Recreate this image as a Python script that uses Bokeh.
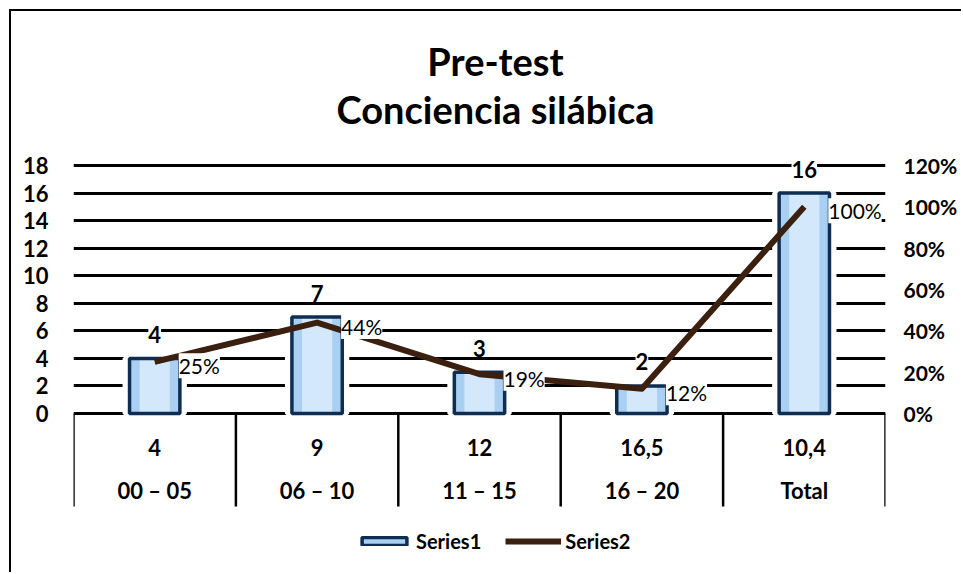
from bokeh.plotting import figure
from bokeh.models import (Range1d, LinearAxis, FixedTicker, NumeralTickFormatter,
                          ColumnDataSource, LabelSet, Label, Legend, LegendItem)
from bokeh.embed import file_html
from bokeh.resources import INLINE
from bokeh.core.properties import value

# ---------------- data ----------------
groups = ["00 – 05", "06 – 10", "11 – 15", "16 – 20", "Total"]
top_row = ["4", "9", "12", "16,5", "10,4"]
series1 = [4, 7, 3, 2, 16]
series2 = [0.25, 0.44, 0.19, 0.12, 1.00]
left_ticks = [0, 2, 4, 6, 8, 10, 12, 14, 16, 18]
right_ticks = [0, 0.2, 0.4, 0.6, 0.8, 1.0, 1.2]
title_lines = ["Pre-test", "Conciencia silábica"]

# ---------------- layout constants (canvas pixels, canvas at page (11,11)) ----------------
OFF = 11
W, H = 963 - OFF, 574 - OFF
FRAME_L, FRAME_R = 73 - OFF, 885 - OFF
ZERO_PX, TOP_PX = 413 - OFF, 165 - OFF      # canvas y of 0 and of 18
px_per = (ZERO_PX - TOP_PX) / left_ticks[-1]
y_end = left_ticks[-1] + TOP_PX / px_per
y_start = -(H - ZERO_PX) / px_per
ratio = right_ticks[-1] / left_ticks[-1]

n = len(groups)
centers = [i + 0.5 for i in range(n)]
seps = list(range(n + 1))
row1_y = -34 / px_per
row2_y = -77 / px_per
table_bottom = -93 / px_per
BAR_W = 0.31

FONT = "Lato"

p = figure(width=W, height=H, x_range=Range1d(0, n), y_range=Range1d(y_start, y_end),
           output_backend="svg", toolbar_location=None, title_location=None,
           x_axis_location=None, min_border_left=FRAME_L, min_border_right=W - FRAME_R,
           min_border_top=0, min_border_bottom=0)
p.styles = {"margin-left": f"{OFF}px", "margin-top": f"{OFF}px",
            "box-shadow": "-2px -2px 0px 0px black"}
p.outline_line_color = None
p.background_fill_color = "white"
p.border_fill_color = "white"
p.xgrid.visible = False
p.ygrid.grid_line_color = "black"
p.ygrid.grid_line_width = 3

ax = p.yaxis[0]
ax.ticker = FixedTicker(ticks=left_ticks)
ax.axis_line_color = None
ax.major_tick_line_color = None
ax.minor_tick_line_color = None
ax.major_label_standoff = 19
ax.major_label_text_font = FONT
ax.major_label_text_font_style = "bold"
ax.major_label_text_font_size = "22px"
ax.major_label_text_color = "black"

p.extra_y_ranges = {"pct": Range1d(y_start * ratio, y_end * ratio)}
rax = LinearAxis(y_range_name="pct", ticker=FixedTicker(ticks=right_ticks),
                 formatter=NumeralTickFormatter(format="0%"))
rax.axis_line_color = None
rax.major_tick_line_color = None
rax.minor_tick_line_color = None
rax.major_label_standoff = 12
rax.major_label_text_font = FONT
rax.major_label_text_font_style = "bold"
rax.major_label_text_font_size = "21px"
rax.major_label_text_color = "black"
p.add_layout(rax, "right")

src = ColumnDataSource(dict(x=centers, s1=series1, s2=series2,
                            l1=[str(v) for v in series1],
                            l2=[f"{v:.0%}" for v in series2],
                            top=top_row, grp=groups))

# white halo around bars (breaks the gridlines like the original)
p.vbar(x="x", top="s1", width=BAR_W, source=src, fill_color="white",
       line_color="white", line_width=14)
# bar body: darker edge tone, lighter centre, navy outline
bar_fill = p.vbar(x="x", top="s1", width=BAR_W, source=src, fill_color="#a9cff2",
                  line_color=None)
bar_glow = p.vbar(x="x", top="s1", width=BAR_W * 0.6, source=src,
                  fill_color="#d3e8fa", line_color=None)
bar_edge = p.vbar(x="x", top="s1", width=BAR_W, source=src, fill_alpha=0,
                  line_color="#0f2d50", line_width=3.5)

line = p.line(x="x", y="s2", source=src, y_range_name="pct",
              line_color="#3b1f0f", line_width=6, line_join="round")

# category table below the plot
p.segment(x0=seps, y0=[0] * len(seps), x1=seps, y1=[table_bottom] * len(seps),
          line_color="black", line_width=2.5)
p.text(x=centers, y=[row1_y] * n, text=top_row, text_font=value(FONT),
       text_font_style="bold", text_font_size="22px", text_align="center",
       text_baseline="middle", text_color="black")
p.text(x=centers, y=[row2_y] * n, text=groups, text_font=value(FONT),
       text_font_style="bold", text_font_size="22px", text_align="center",
       text_baseline="middle", text_color="black")

# data labels
lab1 = LabelSet(x="x", y="s1", text="l1", source=src, y_offset=24,
                text_align="center", text_baseline="middle", text_font=value(FONT),
                text_font_style="bold", text_font_size="22px", text_color="black",
                background_fill_color="white")
lab2 = LabelSet(x="x", y="s2", text="l2", source=src, y_range_name="pct",
                x_offset=24, y_offset=-4, text_align="left", text_baseline="middle",
                text_font=value(FONT), text_font_size="21px", text_color="black",
                background_fill_color="white")
p.add_layout(lab1)
p.add_layout(lab2)

# two-line title (screen pixels, measured from the frame's bottom-left)
title_x = 495 - OFF - FRAME_L
for txt, cy in zip(title_lines, [60 - OFF, 108 - OFF]):
    p.add_layout(Label(x=title_x, y=H - cy, x_units="screen", y_units="screen",
                       text=txt, text_align="center", text_baseline="middle",
                       text_font=FONT, text_font_style="bold",
                       text_font_size="38px", text_color="black"))

legend = Legend(items=[LegendItem(label="Series1", renderers=[bar_fill, bar_edge]),
                       LegendItem(label="Series2", renderers=[line])],
                orientation="horizontal", location=(283, 21),
                background_fill_alpha=0, border_line_color=None,
                label_text_font=FONT, label_text_font_style="bold",
                label_text_font_size="20px", label_text_color="black",
                glyph_width=56, glyph_height=10,
                spacing=24, label_standoff=4, padding=0, margin=0)
p.add_layout(legend)

open("out.html", "w").write(file_html(p, INLINE))
